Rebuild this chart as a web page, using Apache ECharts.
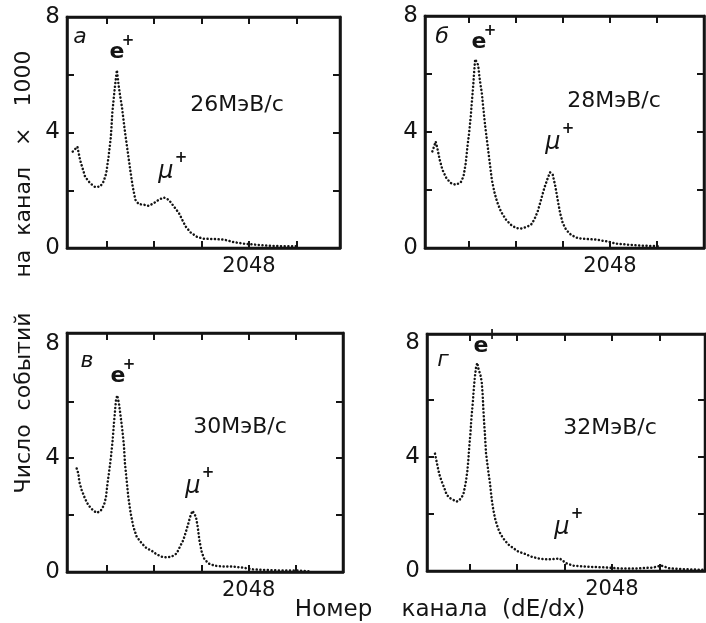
<!DOCTYPE html>
<html><head><meta charset="utf-8">
<script src="https://cdn.jsdelivr.net/npm/echarts@6/dist/echarts.min.js"></script>
<style>html,body{margin:0;padding:0;background:#fff}#c{width:706px;height:623px}</style>
</head><body><div id="c"></div>
<script>
// ---- data ----
const panelLetters = ['а', 'б', 'в', 'г'];
const momentumLabels = ['26МэВ/с', '28МэВ/с', '30МэВ/с', '32МэВ/с'];
const yLabelValues = [0, 4, 8];
const yTickValues = [2, 4, 6];
const xLabelValues = [2048];
const xTickValues = [512, 1024, 1536, 2048, 2560];
const yTitle = 'Число  событий     на  канал   ×   1000';
const xTitle = 'Номер    канала  (dE/dx)';

const channelsA = [148,198,227,281,336,390,444,480,509,534,559,574,588,599,613,624,642,660,678,704,718,743,768,794,823,859,913,967,1021,1075,1129,1183,1238,1292,1328,1364,1418,1490,1562,1670,1779,1887,1995,2103,2248,2428,2573];
const countsA = [3.34,3.51,3.05,2.47,2.24,2.11,2.13,2.30,2.59,3.16,3.85,4.66,5.12,5.47,5.87,6.16,5.64,5.24,4.89,4.20,3.85,3.28,2.70,2.13,1.67,1.52,1.50,1.46,1.55,1.67,1.75,1.67,1.44,1.21,0.98,0.75,0.54,0.38,0.32,0.31,0.29,0.20,0.15,0.12,0.08,0.06,0.06];

const channelsB = [120,156,174,200,229,272,320,374,428,458,483,501,519,537,548,563,574,585,599,617,635,657,675,694,712,730,748,766,792,821,864,919,973,1028,1082,1137,1191,1227,1264,1300,1336,1373,1398,1427,1456,1481,1507,1536,1572,1627,1699,1790,1899,2008,2117,2262,2407,2589];
const countsB = [3.33,3.67,3.44,3.04,2.70,2.41,2.24,2.18,2.26,2.47,2.93,3.50,3.96,4.54,4.99,5.57,6.08,6.51,6.54,6.31,5.80,5.34,4.76,4.19,3.73,3.27,2.81,2.35,1.95,1.61,1.26,0.98,0.80,0.69,0.67,0.72,0.80,0.98,1.26,1.66,2.07,2.41,2.61,2.53,2.12,1.66,1.21,0.86,0.63,0.45,0.34,0.31,0.29,0.23,0.15,0.11,0.08,0.06];

const channelsC = [188,206,216,242,278,314,361,404,447,483,505,519,541,559,577,591,602,613,627,645,664,682,700,710,728,746,772,801,837,891,945,999,1053,1107,1161,1215,1269,1305,1341,1370,1396,1421,1442,1460,1478,1497,1515,1540,1565,1612,1684,1774,1882,1991,2099,2243,2423,2604,2712];
const countsC = [3.64,3.46,3.17,2.88,2.58,2.35,2.18,2.08,2.15,2.35,2.64,3.05,3.58,4.05,4.63,5.22,5.63,6.04,6.21,5.92,5.45,4.98,4.40,3.81,3.23,2.64,2.06,1.59,1.24,1.01,0.83,0.75,0.62,0.54,0.51,0.54,0.65,0.89,1.12,1.42,1.71,2.00,2.15,2.12,1.94,1.59,1.12,0.71,0.48,0.30,0.22,0.19,0.19,0.15,0.09,0.07,0.05,0.05,0.02];

const channelsD = [140,176,194,219,248,266,302,338,374,399,420,445,471,489,500,510,521,528,536,546,553,561,571,582,596,611,629,643,654,661,668,679,690,708,722,733,744,755,769,787,808,833,859,895,938,985,1038,1110,1182,1254,1326,1398,1484,1556,1628,1771,1951,2131,2310,2490,2580,2670,2849,3029];
const countsD = [4.11,3.54,3.31,3.08,2.84,2.67,2.55,2.49,2.43,2.47,2.55,2.67,3.08,3.49,3.89,4.36,4.77,5.12,5.47,5.82,6.12,6.47,6.82,7.11,7.29,7.05,6.88,6.64,6.18,5.71,5.30,4.77,4.13,3.66,3.31,3.08,2.73,2.43,2.14,1.85,1.61,1.38,1.23,1.06,0.91,0.80,0.68,0.60,0.50,0.44,0.41,0.41,0.44,0.27,0.19,0.15,0.13,0.09,0.09,0.12,0.19,0.09,0.06,0.04];

// ---- layout ----
const panels = [
  {grid:{left:67, top:17, width:273, height:231}, xMin:86, xMax:3029, yMax:8, ch:channelsA, v:countsA,
   letter:[80,37], e:[117,52], mu:[166,172], mom:[237,105]},
  {grid:{left:425, top:16, width:279, height:232}, xMin:40, xMax:3070, yMax:8, ch:channelsB, v:countsB,
   letter:[442,37], e:[479,42], mu:[553,143], mom:[614,101]},
  {grid:{left:67, top:333, width:276, height:239}, xMin:83, xMax:3069, yMax:8.4, ch:channelsC, v:countsC,
   letter:[87,361], e:[118,376], mu:[193,487], mom:[240,427]},
  {grid:{left:427, top:334, width:278, height:237}, xMin:54, xMax:3051, yMax:8.3, ch:channelsD, v:countsD,
   letter:[443,360], e:[481,346], mu:[562,528], mom:[610,428]}
];

const INK = '#141414';
const FONT = 'DejaVu Sans';
const grid = [], xAxis = [], yAxis = [], series = [], graphic = [];
const plain = v => String(v);

panels.forEach((p, i) => {
  grid.push(Object.assign({show:true, borderColor:INK, borderWidth:2.5, backgroundColor:'transparent'}, p.grid));
  const lineCommon = {show:true, onZero:false, lineStyle:{color:INK, width:2.5}};
  const tickCommon = {show:true, inside:true, length:7, lineStyle:{color:INK, width:2}};
  xAxis.push({type:'value', gridIndex:i, position:'bottom', min:p.xMin, max:p.xMax,
    axisLine:lineCommon, axisTick:Object.assign({customValues:xTickValues}, tickCommon),
    axisLabel:{customValues:xLabelValues, formatter:plain, fontSize:21, fontFamily:FONT, color:INK, margin:8},
    splitLine:{show:false}});
  xAxis.push({type:'value', gridIndex:i, position:'top', min:p.xMin, max:p.xMax,
    axisLine:lineCommon, axisTick:Object.assign({customValues:xTickValues}, tickCommon),
    axisLabel:{show:false}, splitLine:{show:false}});
  yAxis.push({type:'value', gridIndex:i, position:'left', min:0, max:p.yMax,
    axisLine:lineCommon, axisTick:Object.assign({customValues:yTickValues}, tickCommon),
    axisLabel:{customValues:yLabelValues, formatter:plain, fontSize:23, fontFamily:FONT, color:INK, margin:7},
    splitLine:{show:false}});
  yAxis.push({type:'value', gridIndex:i, position:'right', min:0, max:p.yMax,
    axisLine:lineCommon, axisTick:Object.assign({customValues:yTickValues}, tickCommon),
    axisLabel:{show:false}, splitLine:{show:false}});
  series.push({type:'line', xAxisIndex:2*i, yAxisIndex:2*i, symbol:'none', silent:true,
    data:p.ch.map((c, k) => [c, p.v[k]]),
    lineStyle:{color:INK, width:2.5, type:[0.1, 3.6], cap:'round'}});

  const t = (txt, pos, font) => graphic.push({type:'text', x:pos[0], y:pos[1],
    style:{text:txt, font:font, fill:INK, align:'center', verticalAlign:'middle'}});
  t(panelLetters[i], p.letter, 'italic 22px ' + FONT);
  t('e', p.e, 'bold 22px ' + FONT);
  t('+', [p.e[0] + 11, p.e[1] - 11], 'bold 15px ' + FONT);
  t('μ', p.mu, 'italic 24px ' + FONT);
  t('+', [p.mu[0] + 15, p.mu[1] - 14], 'bold 15px ' + FONT);
  t(momentumLabels[i], p.mom, '22px ' + FONT);
});

graphic.push({type:'text', x:24, y:272, rotation:Math.PI/2,
  style:{text:yTitle, font:'22px ' + FONT, fill:INK, align:'center', verticalAlign:'middle'}});
graphic.push({type:'text', x:440, y:610,
  style:{text:xTitle, font:'23px ' + FONT, fill:INK, align:'center', verticalAlign:'middle'}});

const chart = echarts.init(document.getElementById('c'), null, {renderer:'canvas'});
chart.setOption({animation:false, backgroundColor:'#fff', grid, xAxis, yAxis, series, graphic});
</script></body></html>
